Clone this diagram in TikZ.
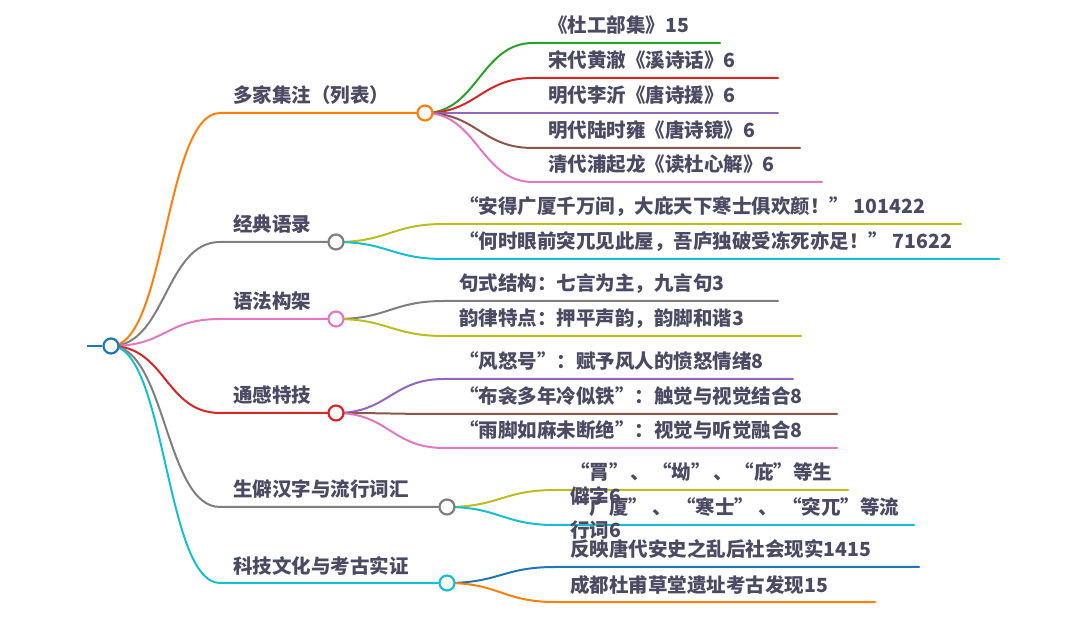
\documentclass[tikz,border=0pt]{standalone}
\usepackage{fontspec}
\setmainfont{Noto Sans CJK SC}
\usetikzlibrary{backgrounds}
\definecolor{tabblue}{HTML}{1F77B4}
\definecolor{taborange}{HTML}{FF7F0E}
\definecolor{tabgreen}{HTML}{2CA02C}
\definecolor{tabred}{HTML}{D62728}
\definecolor{tabpurple}{HTML}{9467BD}
\definecolor{tabbrown}{HTML}{8C564B}
\definecolor{tabpink}{HTML}{E377C2}
\definecolor{tabgray}{HTML}{7F7F7F}
\definecolor{tabolive}{HTML}{BCBD22}
\definecolor{tabcyan}{HTML}{17BECF}
\definecolor{txt}{HTML}{4B4A63}
\tikzset{
  dot/.style={circle, fill=white, line width=2.2pt, minimum size=15pt, inner sep=0pt},
  lbl/.style={anchor=base west, inner sep=0pt, text=txt, font=\fontsize{19.5}{21}\selectfont\bfseries},
  edge/.style={line width=2pt, line cap=round},
}
% #1 parent, #2 name, #3 colour, #4 start x of horizontal, #5 y, #6 end x, #7 text
\newcommand\mmkid[7]{%
  \coordinate (#2s) at (#4,#5);
  \coordinate (#2e) at (#6,#5);
  \begin{scope}[on background layer]
    \draw[edge,#3] (#1.center) .. controls +(52,0) and +(-52,0) .. (#2s) -- (#2e);
  \end{scope}
  \node[lbl] (#2t) at ({#4+15},{#5-10}) {#7};
}
% #1 name, #2 colour, #3 circle x, #4 y, #5 text
\newcommand\mmtop[5]{%
  \node[dot, draw=#2] (#1) at (#3,#4) {};
  \coordinate (#1s) at (220,#4);
  \begin{scope}[on background layer]
    \draw[edge,#2] (root.center) .. controls +(55,0) and +(-55,0) .. (#1s) -- (#1);
  \end{scope}
  \node[lbl] (#1t) at (233,{#4-10}) {#5};
}
\begin{document}
\begin{tikzpicture}[x=1pt,y=-1pt]
\path[use as bounding box] (0,0) rectangle (1080,617);
\node[dot, draw=tabblue] (root) at (111,346) {};
\coordinate (rootin) at (87,346);
\begin{scope}[on background layer]
  \draw[edge,tabblue,line cap=butt] (rootin) -- (root);
\end{scope}

\mmtop{A}{taborange}{425}{113}{多家集注（列表）}
\mmtop{B}{tabgray}{336}{242}{经典语录}
\mmtop{C}{tabpink}{336}{319}{语法构架}
\mmtop{D}{tabred}{336}{413}{通感特技}
\mmtop{E}{tabgray}{447}{507}{生僻汉字与流行词汇}
\mmtop{F}{tabcyan}{447}{583}{科技文化与考古实证}

\mmkid{A}{A1}{tabgreen}{533}{43}{720}{《杜工部集》15}
\mmkid{A}{A2}{tabred}{533}{78}{778}{宋代黄澈《溪诗话》6}
\mmkid{A}{A3}{tabpurple}{533}{113}{778}{明代李沂《唐诗援》6}
\mmkid{A}{A4}{tabbrown}{533}{148}{800}{明代陆时雍《唐诗镜》6}
\mmkid{A}{A5}{tabpink}{533}{182}{822}{清代浦起龙《读杜心解》6}

\mmkid{B}{B1}{tabolive}{444}{224}{961}{“安得广厦千万间，大庇天下寒士俱欢颜！” 101422}
\mmkid{B}{B2}{tabcyan}{444}{259}{999}{“何时眼前突兀见此屋，吾庐独破受冻死亦足！” 71622}

\mmkid{C}{C1}{tabgray}{444}{301}{778}{句式结构：七言为主，九言句3}
\mmkid{C}{C2}{tabolive}{444}{336}{801}{韵律特点：押平声韵，韵脚和谐3}

\mmkid{D}{D1}{tabpurple}{444}{379}{793}{“风怒号”：赋予风人的愤怒情绪8}
\mmkid{D}{D2}{tabbrown}{444}{414}{837}{“布衾多年冷似铁”：触觉与视觉结合8}
\mmkid{D}{D3}{tabpink}{444}{448}{837}{“雨脚如麻未断绝”：视觉与听觉融合8}

\mmkid{E}{E1}{tabolive}{555}{490}{848}{\begin{tabular}[t]{@{}l@{}}\makebox[262pt][l]{“罥”\hfill、\hfill“坳”\hfill、\hfill“庇”等生}\\僻字6\end{tabular}}
\mmkid{E}{E2}{tabcyan}{555}{525}{914}{\begin{tabular}[t]{@{}l@{}}\makebox[329pt][l]{“广厦”\hfill、\hfill“寒士”\hfill、\hfill“突兀”等流}\\行词6\end{tabular}}

\mmkid{F}{F1}{tabblue}{555}{567}{919}{反映唐代安史之乱后社会现实1415}
\mmkid{F}{F2}{taborange}{555}{602}{875}{成都杜甫草堂遗址考古发现15}
\end{tikzpicture}
\end{document}
